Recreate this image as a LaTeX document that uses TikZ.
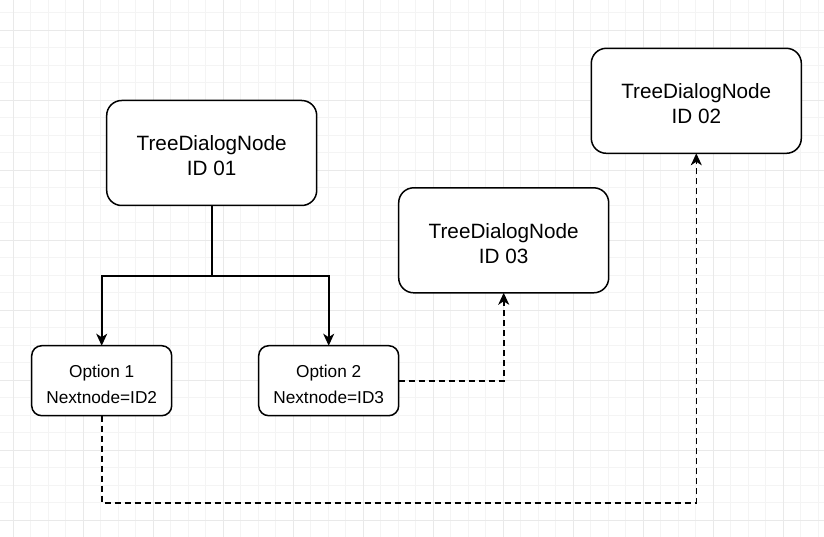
\documentclass[tikz,border=0pt]{standalone}
\usepackage{fontspec}
\setmainfont{Liberation Sans}
\usetikzlibrary{arrows.meta}
\definecolor{gridminor}{RGB}{244,244,244}
\definecolor{gridmajor}{RGB}{233,233,233}
\tikzset{
  bigbox/.style={draw=black, line width=1.5pt, fill=white, rounded corners=15pt,
    minimum width=210pt, minimum height=105pt, inner sep=0pt, outer sep=0pt},
  optbox/.style={draw=black, line width=1.5pt, fill=white, rounded corners=10pt,
    minimum width=140pt, minimum height=70pt, inner sep=0pt, outer sep=0pt},
  bigtext/.style={inner sep=0pt, align=center, font=\fontsize{20.7}{25}\selectfont},
  opttext/.style={inner sep=0pt, align=center, font=\fontsize{17.25}{25.5}\selectfont},
  conn/.style={draw=black, line width=1.6pt, -{Stealth[length=12pt, width=11pt, inset=3.5pt]}},
  dashconn/.style={conn, dash pattern=on 6pt off 4pt}
}
\begin{document}
\begin{tikzpicture}[x=1pt,y=-1pt]
  \useasboundingbox (0,0) rectangle (824,537);
  \fill[white] (0,0) rectangle (824,537);
  % grid
  \foreach \k in {0,...,46} {
    \draw[gridminor, line width=0.8pt] ({13.3+17.5*\k},0) -- ({13.3+17.5*\k},537);
  }
  \foreach \k in {0,...,29} {
    \draw[gridminor, line width=0.8pt] (0,{12.5+17.5*\k}) -- (824,{12.5+17.5*\k});
  }
  \foreach \k in {0,...,11} {
    \draw[gridmajor, line width=0.8pt] ({13.3+70*\k},0) -- ({13.3+70*\k},537);
  }
  \foreach \k in {0,...,7} {
    \draw[gridmajor, line width=0.8pt] (0,{30+70*\k}) -- (824,{30+70*\k});
  }
  % nodes
  \node[bigbox] (id01) at (211.7,153) {};
  \node[bigbox] (id02) at (696.3,100.8) {};
  \node[bigbox] (id03) at (503.7,240.3) {};
  \node[optbox] (opt1) at (101.7,380.7) {};
  \node[optbox] (opt2) at (328.7,380.7) {};
  \node[bigtext] (id01t) at ([yshift=-3pt]id01.center) {TreeDialogNode\\ID 01};
  \node[bigtext] (id02t) at ([yshift=-3pt]id02.center) {TreeDialogNode\\ID 02};
  \node[bigtext] (id03t) at ([yshift=-3pt]id03.center) {TreeDialogNode\\ID 03};
  \node[opttext] (opt1t) at ([yshift=-3.5pt]opt1.center) {Option 1\\Nextnode=ID2};
  \node[opttext] (opt2t) at ([yshift=-3.5pt]opt2.center) {Option 2\\Nextnode=ID3};
  % connectors
  \coordinate (split) at (211.7,276);
  \draw[line width=1.6pt] (id01.south) -- (split);
  \draw[conn] (split) -| (opt1.north);
  \draw[conn] (split) -| (opt2.north);
  \draw[dashconn] (opt2.east) -| (id03.south);
  \coordinate (low) at (101.7,502.7);
  \draw[dashconn] (opt1.south) -- (low) -| (id02.south);
\end{tikzpicture}
\end{document}
